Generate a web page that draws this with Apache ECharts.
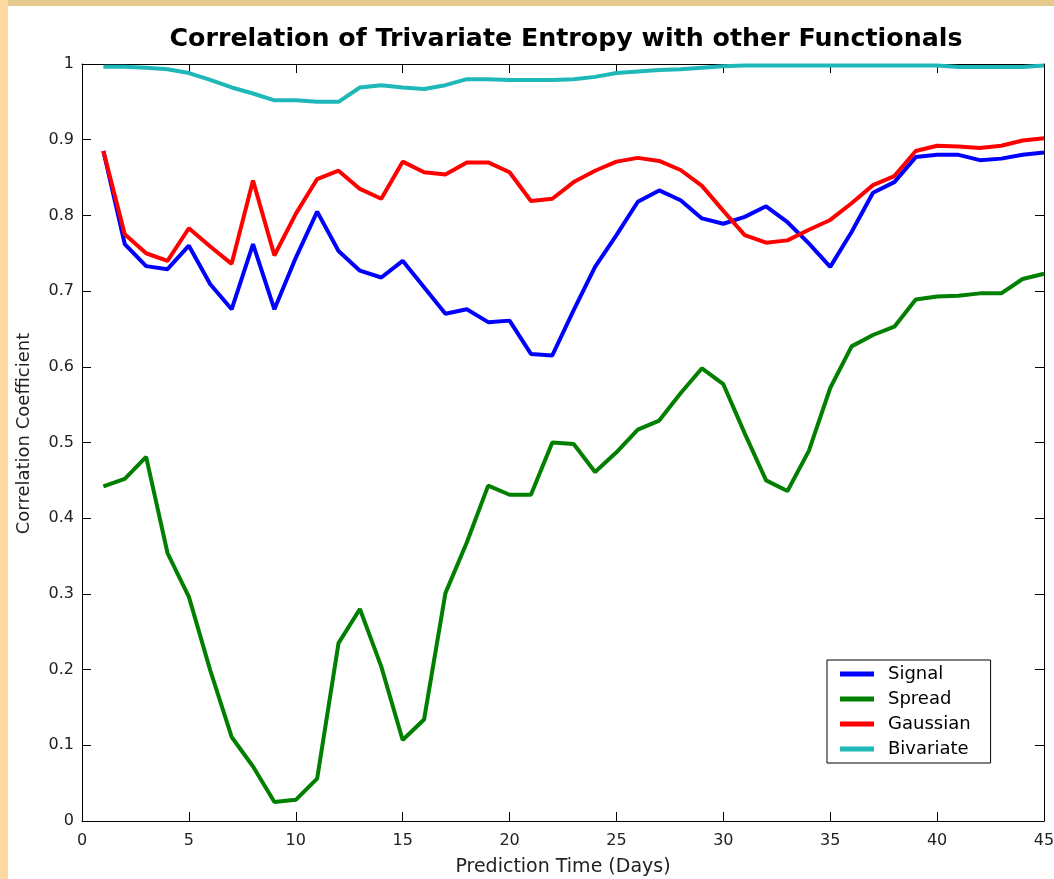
<!DOCTYPE html>
<html>
<head>
<meta charset="utf-8">
<script src="https://cdn.jsdelivr.net/npm/echarts@6/dist/echarts.min.js"></script>
<style>
html,body{margin:0;padding:0;background:#ffffff;}
#chart{width:1054px;height:879px;}
</style>
</head>
<body>
<div id="chart"></div>
<script>
const days = [1,2,3,4,5,6,7,8,9,10,11,12,13,14,15,16,17,18,19,20,21,22,23,24,25,26,27,28,29,30,31,32,33,34,35,36,37,38,39,40,41,42,43,44,45];
const signal = [0.885,0.762,0.733,0.729,0.760,0.709,0.676,0.762,0.676,0.744,0.805,0.753,0.727,0.718,0.740,0.705,0.670,0.676,0.659,0.661,0.617,0.615,0.675,0.732,0.774,0.818,0.833,0.820,0.796,0.789,0.798,0.812,0.791,0.763,0.732,0.778,0.830,0.844,0.877,0.880,0.880,0.873,0.875,0.880,0.883];
const spread = [0.442,0.452,0.481,0.354,0.296,0.199,0.111,0.072,0.025,0.028,0.056,0.235,0.280,0.204,0.107,0.134,0.301,0.368,0.443,0.431,0.431,0.500,0.498,0.461,0.487,0.517,0.529,0.565,0.598,0.577,0.512,0.450,0.436,0.489,0.572,0.627,0.642,0.653,0.689,0.693,0.694,0.697,0.697,0.716,0.723];
const gaussian = [0.885,0.775,0.750,0.740,0.783,0.759,0.736,0.846,0.747,0.802,0.848,0.859,0.835,0.822,0.871,0.857,0.854,0.870,0.870,0.857,0.819,0.822,0.844,0.859,0.871,0.876,0.872,0.860,0.839,0.806,0.774,0.764,0.767,0.781,0.794,0.816,0.840,0.852,0.885,0.892,0.891,0.889,0.892,0.899,0.902];
const bivariate = [0.9965,0.9965,0.995,0.993,0.988,0.979,0.969,0.961,0.952,0.952,0.950,0.950,0.969,0.972,0.969,0.967,0.972,0.980,0.980,0.979,0.979,0.979,0.980,0.983,0.988,0.990,0.992,0.993,0.995,0.997,0.998,0.998,0.998,0.998,0.998,0.998,0.998,0.998,0.998,0.998,0.996,0.996,0.996,0.996,0.998];
const seriesNames = ['Signal','Spread','Gaussian','Bivariate'];
const seriesColors = ['#0000ff','#007f00','#ff0000','#1fb8b8'];
const seriesValues = [signal, spread, gaussian, bivariate];
const titleText = 'Correlation of Trivariate Entropy with other Functionals';
const xName = 'Prediction Time (Days)';
const yName = 'Correlation Coefficient';

const FONT = '"DejaVu Sans", "Liberation Sans", Arial, sans-serif';
const chart = echarts.init(document.getElementById('chart'), null, {renderer:'canvas'});

const pairs = v => days.map((d,i)=>[d, v[i]]);

const option = {
  backgroundColor: '#ffffff',
  animation: false,
  title: {
    text: titleText,
    left: 561, top: 22, textAlign: 'center',
    textStyle: {fontFamily: FONT, fontSize: 25.3, fontWeight: 'bold', color: '#000'}
  },
  graphic: [
    {type:'rect', left:0, top:0, shape:{width:1054, height:6}, style:{fill:'#e6c98c'}, z:-1},
    {type:'rect', left:0, top:0, shape:{width:8, height:879}, style:{fill:'#fcd9a0'}, z:-1}
  ],
  grid: {left: 82, right: 10, top: 64, bottom: 58, containLabel: false, outerBoundsMode: 'none'},
  legend: {
    orient: 'vertical',
    left: 827, top: 660,
    data: seriesNames,
    icon: 'rect',
    itemWidth: 34, itemHeight: 5,
    itemGap: 5,
    padding: [4, 20, 4, 13],
    backgroundColor: '#fff',
    borderColor: '#000', borderWidth: 1,
    textStyle: {fontFamily: FONT, fontSize: 18, color: '#000', lineHeight: 20, padding:[0,0,0,9]}
  },
  xAxis: [
    {
      type: 'value', min: 0, max: 45, interval: 5, position: 'bottom',
      name: xName, nameLocation: 'middle', nameGap: 37,
      nameTextStyle: {fontFamily: FONT, fontSize: 19, color: '#222'},
      axisLine: {show: true, onZero: false, lineStyle: {color: '#000', width: 1}},
      axisTick: {show: true, inside: true, length: 9, lineStyle: {color: '#000'}},
      axisLabel: {fontFamily: FONT, fontSize: 16, color: '#222', margin: 12},
      splitLine: {show: false}
    },
    {
      type: 'value', min: 0, max: 45, interval: 5, position: 'top',
      axisLine: {show: true, onZero: false, lineStyle: {color: '#000', width: 1}},
      axisTick: {show: true, inside: true, length: 9, lineStyle: {color: '#000'}},
      axisLabel: {show: false},
      splitLine: {show: false}
    }
  ],
  yAxis: [
    {
      type: 'value', min: 0, max: 1, interval: 0.1, position: 'left',
      name: yName, nameLocation: 'middle', nameGap: 49, nameRotate: 90,
      nameTextStyle: {fontFamily: FONT, fontSize: 18, color: '#222', padding: [0,0,0,18]},
      axisLine: {show: true, onZero: false, lineStyle: {color: '#000', width: 1}},
      axisTick: {show: true, inside: true, length: 9, lineStyle: {color: '#000'}},
      axisLabel: {fontFamily: FONT, fontSize: 16, color: '#222', margin: 8,
        formatter: v => { const r = Math.round(v*10)/10; return (r===0||r===1) ? String(r) : r.toFixed(1); }},
      splitLine: {show: false}
    },
    {
      type: 'value', min: 0, max: 1, interval: 0.1, position: 'right',
      axisLine: {show: true, onZero: false, lineStyle: {color: '#000', width: 1}},
      axisTick: {show: true, inside: true, length: 9, lineStyle: {color: '#000'}},
      axisLabel: {show: false},
      splitLine: {show: false}
    }
  ],
  series: seriesNames.map((n, i) => ({
    name: n, type: 'line', xAxisIndex: 0, yAxisIndex: 0,
    data: pairs(seriesValues[i]),
    showSymbol: false, symbol: 'none',
    lineStyle: {color: seriesColors[i], width: 4},
    itemStyle: {color: seriesColors[i]},
    z: 3
  }))
};
chart.setOption(option);
</script>
</body>
</html>
